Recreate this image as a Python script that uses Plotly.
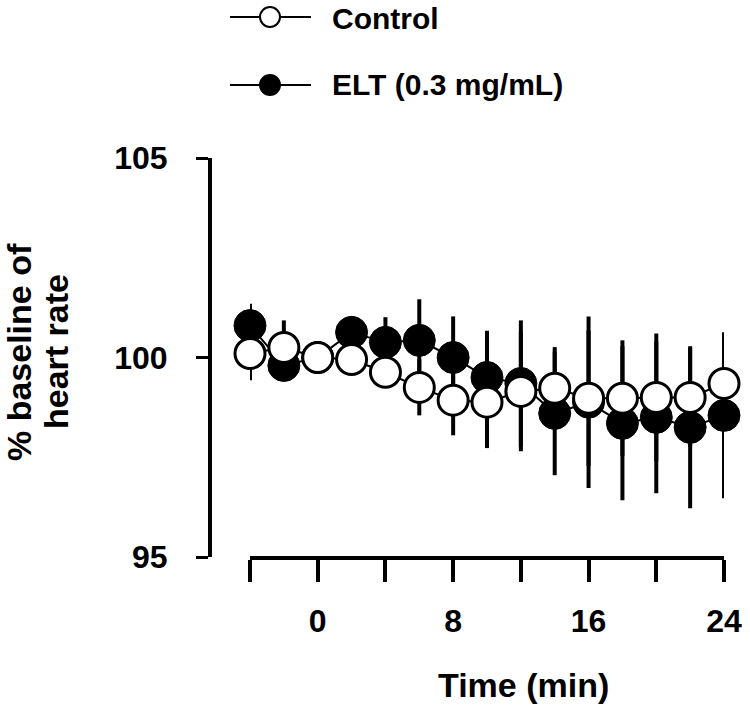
import plotly.graph_objects as go

# ---- data ----
time_min = [-4, -2, 0, 2, 4, 6, 8, 10, 12, 14, 16, 18, 20, 22, 24]
control_mean = [100.1, 100.25, 100.0, 99.95, 99.63, 99.25, 98.93, 98.88, 99.15, 99.23, 98.98, 98.98, 99.0, 99.0, 99.35]
control_err = [0.67, 0.68, 0.0, 0.2, 0.3, 0.7, 0.88, 1.15, 1.5, 1.03, 1.7, 1.45, 1.6, 1.25, 1.08]
elt_mean = [100.8, 99.8, 100.0, 100.63, 100.38, 100.43, 100.0, 99.5, 99.35, 98.6, 98.88, 98.35, 98.5, 98.25, 98.55]
elt_err = [0.55, 0.35, 0.0, 0.3, 0.63, 1.03, 1.03, 1.17, 1.58, 1.55, 2.15, 1.93, 1.9, 2.03, 2.08]

x_tick_vals = [-4, 0, 4, 8, 12, 16, 20, 24]
x_tick_text = ["", "0", "", "8", "", "16", "", "24"]
y_tick_vals = [95, 100, 105]
y_tick_text = ["95", "100", "105"]

name_control = "Control"
name_elt = "ELT (0.3 mg/mL)"
x_title = "Time (min)"
y_title_lines = ["% baseline of", "heart rate"]

W, H = 750, 706
FONT = "Arial, 'Liberation Sans', sans-serif"


def px(x):
    return x / W


def py(y):
    return 1 - y / H


fig = go.Figure()

fig.add_trace(go.Scatter(
    x=time_min, y=elt_mean, name=name_elt, mode="lines+markers",
    line=dict(color="black", width=2),
    marker=dict(symbol="circle", size=32, color="black",
                line=dict(color="black", width=1)),
    error_y=dict(type="data", array=elt_err, visible=True,
                 thickness=4, width=0, color="black"),
    cliponaxis=False, showlegend=False,
))
fig.add_trace(go.Scatter(
    x=time_min, y=control_mean, name=name_control, mode="lines+markers",
    line=dict(color="black", width=2),
    marker=dict(symbol="circle", size=30, color="white",
                line=dict(color="black", width=3)),
    error_y=dict(type="data", array=control_err, visible=True,
                 thickness=4, width=0, color="black"),
    cliponaxis=False, showlegend=False,
))

tick_font = dict(family=FONT, size=32, color="black", weight="bold")

fig.update_layout(
    width=W, height=H,
    margin=dict(l=0, r=0, t=0, b=0),
    paper_bgcolor="white", plot_bgcolor="white",
    xaxis=dict(
        domain=[px(250), px(724)], range=[-4, 24],
        tickmode="array", tickvals=x_tick_vals, ticktext=x_tick_text,
        ticks="outside", ticklen=22, tickwidth=4, tickcolor="black",
        showline=True, linewidth=4, linecolor="black",
        showgrid=False, zeroline=False,
        anchor="free", position=py(558),
        tickfont=tick_font, ticklabelstandoff=12, automargin=False,
    ),
    yaxis=dict(
        domain=[py(557), py(158)], range=[95, 105],
        tickmode="array", tickvals=y_tick_vals, ticktext=y_tick_text,
        ticks="outside", ticklen=12, tickwidth=3, tickcolor="black",
        showline=True, linewidth=4, linecolor="black",
        showgrid=False, zeroline=False,
        anchor="free", position=px(210),
        tickfont=tick_font, ticklabelstandoff=22, automargin=False,
    ),
)

# axis titles
fig.add_annotation(text=x_title, xref="paper", yref="paper",
                   x=px(523), y=py(685), showarrow=False,
                   xanchor="center", yanchor="middle",
                   font=dict(family=FONT, size=34, color="black", weight="bold"))
for line_text, xx in zip(y_title_lines, [19, 56]):
    fig.add_annotation(text=line_text, xref="paper", yref="paper",
                       x=px(xx), y=py(352), showarrow=False, textangle=-90,
                       xanchor="center", yanchor="middle",
                       font=dict(family=FONT, size=34, color="black", weight="bold"))

# legend (drawn manually to match the reference layout)
legend_rows = [(name_control, 17, "white"), (name_elt, 85, "black")]
for label, yy, fill in legend_rows:
    fig.add_shape(type="line", xref="paper", yref="paper",
                  x0=px(230), x1=px(311), y0=py(yy), y1=py(yy),
                  line=dict(color="black", width=2))
    fig.add_shape(type="circle", xref="paper", yref="paper",
                  xsizemode="pixel", ysizemode="pixel",
                  xanchor=px(270), yanchor=py(yy),
                  x0=-10, x1=10, y0=-10, y1=10,
                  fillcolor=fill, line=dict(color="black", width=2))
    fig.add_annotation(text=label, xref="paper", yref="paper",
                       x=px(331), y=py(max(yy, 19)), showarrow=False,
                       xanchor="left", yanchor="middle", borderpad=0,
                       font=dict(family=FONT, size=30, color="black", weight="bold"))

fig.write_html("out.html",
               config={"displayModeBar": False},
               post_script="document.body.style.margin='0px';")
